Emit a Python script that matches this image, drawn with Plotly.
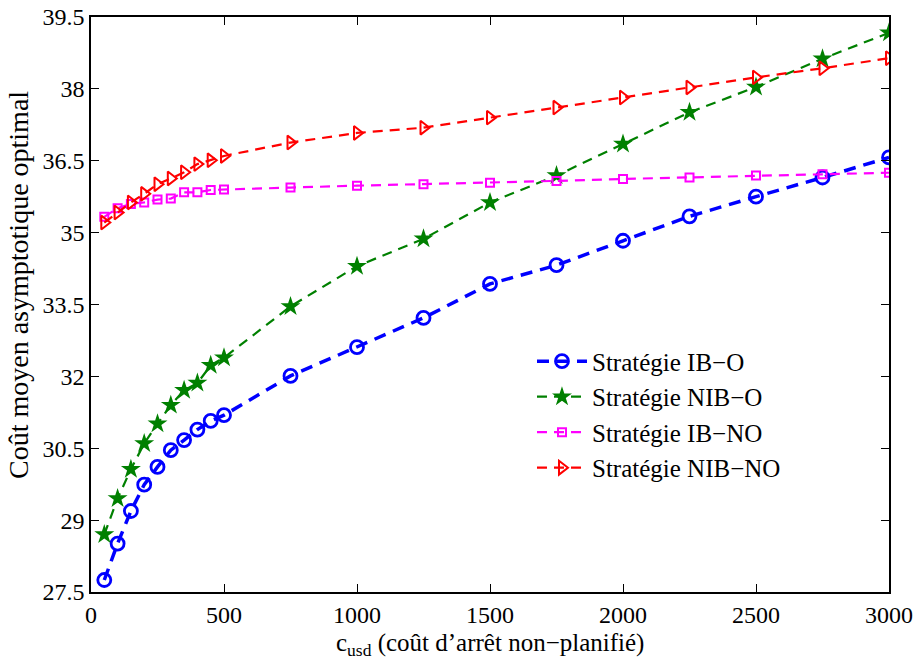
import plotly.graph_objects as go

x_vals = [50, 100, 150, 200, 250, 300, 350, 400, 450, 500, 750, 1000, 1250, 1500, 1750, 2000, 2250, 2500, 2750, 3000]

ib_o = [27.75, 28.51, 29.19, 29.74, 30.11, 30.46, 30.67, 30.89, 31.07, 31.19,
        32.01, 32.61, 33.22, 33.93, 34.32, 34.83, 35.34, 35.75, 36.15, 36.57]
nib_o = [28.70, 29.45, 30.06, 30.60, 31.01, 31.40, 31.71, 31.86, 32.23, 32.39,
         33.46, 34.30, 34.87, 35.63, 36.19, 36.85, 37.51, 38.04, 38.63, 39.17]
ib_no = [35.33, 35.51, 35.60, 35.63, 35.69, 35.71, 35.84, 35.84, 35.89, 35.90,
         35.94, 35.98, 36.01, 36.04, 36.08, 36.12, 36.15, 36.19, 36.22, 36.25]
nib_no = [35.21, 35.42, 35.63, 35.81, 36.01, 36.13, 36.26, 36.43, 36.51, 36.60,
          36.88, 37.08, 37.19, 37.40, 37.61, 37.82, 38.03, 38.24, 38.43, 38.64]

names = ["Stratégie IB\u2212O", "Stratégie NIB\u2212O", "Stratégie IB\u2212NO", "Stratégie NIB\u2212NO"]
x_ticks = [0, 500, 1000, 1500, 2000, 2500, 3000]
y_ticks = [27.5, 29, 30.5, 32, 33.5, 35, 36.5, 38, 39.5]
y_labels = ["27.5", "29", "30.5", "32", "33.5", "35", "36.5", "38", "39.5"]
x_title = "c<sub>usd</sub> (coût d\u2019arrêt non\u2212planifié)"
y_title = "Coût moyen asymptotique optimal"

FONT = "Liberation Serif, Times New Roman, serif"

fig = go.Figure()
fig.add_trace(go.Scatter(x=x_vals, y=ib_o, name=names[0], mode="lines+markers",
                         line=dict(color="#0000ff", width=3.5, dash="12px,8px"),
                         marker=dict(symbol="circle-open", size=13, color="#0000ff", line=dict(width=2.8))))
fig.add_trace(go.Scatter(x=x_vals, y=nib_o, name=names[1], mode="lines+markers",
                         line=dict(color="#008000", width=2.2, dash="10px,7px"),
                         marker=dict(symbol="star", size=15, color="#008000", line=dict(width=0))))
fig.add_trace(go.Scatter(x=x_vals, y=ib_no, name=names[2], mode="lines+markers",
                         line=dict(color="#ff00ff", width=2.2, dash="10px,7px"),
                         marker=dict(symbol="square-open", size=8, color="#ff00ff", line=dict(width=2))))
fig.add_trace(go.Scatter(x=x_vals, y=nib_no, name=names[3], mode="lines+markers",
                         line=dict(color="#ff0000", width=2.2, dash="10px,7px"),
                         marker=dict(symbol="triangle-right-open", size=12, color="#ff0000", line=dict(width=2))))

axis_common = dict(showline=True, linecolor="black", linewidth=1.5, mirror="ticks",
                   ticks="inside", ticklen=8, tickcolor="black", showgrid=False, zeroline=False,
                   automargin=False, ticklabeloverflow="allow",
                   tickfont=dict(family=FONT, size=24, color="black"))

fig.update_layout(
    width=917, height=659,
    margin=dict(l=91, r=28, t=17, b=67),
    paper_bgcolor="white", plot_bgcolor="white",
    font=dict(family=FONT, size=24, color="black"),
    xaxis=dict(range=[0, 3000], tickvals=x_ticks, **axis_common),
    yaxis=dict(range=[27.5, 39.5], tickvals=y_ticks, ticktext=y_labels, **axis_common),
    legend=dict(x=0.5526, y=0.441, xanchor="left", yanchor="top", bgcolor="rgba(255,255,255,0)",
                font=dict(family=FONT, size=25, color="black"), itemwidth=50, tracegroupgap=0),
    showlegend=True,
    annotations=[
        dict(text=x_title, xref="paper", yref="paper", x=0.5, y=-0.092,
             xanchor="center", yanchor="middle", showarrow=False,
             font=dict(family=FONT, size=25, color="black")),
        dict(text=y_title, xref="paper", yref="paper", x=-0.0902, y=0.534,
             xanchor="center", yanchor="middle", textangle=-90, showarrow=False,
             font=dict(family=FONT, size=28, color="black")),
    ],
)

# remove the browser's default 8px page margin so the 917x659 figure fills the window
fig.write_html("out.html", config={"displayModeBar": False},
               post_script="document.body.style.margin='0';")
